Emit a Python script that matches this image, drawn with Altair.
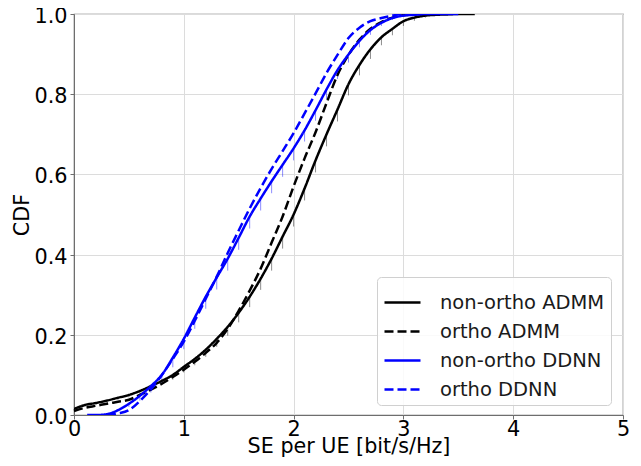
import altair as alt
import pandas as pd

FONT = "DejaVu Sans"

# ---------------- data ----------------
x_nonortho_admm = [0.0, 0.1, 0.2, 0.3, 0.4, 0.5, 0.6, 0.7, 0.8, 0.9, 1.0, 1.1, 1.2, 1.3, 1.4,
                   1.5, 1.6, 1.7, 1.8, 1.9, 2.0, 2.1, 2.2, 2.3, 2.4, 2.5, 2.6, 2.7, 2.8, 2.9,
                   3.0, 3.1, 3.2, 3.3, 3.4, 3.5, 3.65]
y_nonortho_admm = [0.015, 0.025, 0.030, 0.036, 0.043, 0.050, 0.060, 0.072, 0.085, 0.100, 0.120,
                   0.140, 0.163, 0.190, 0.220, 0.255, 0.295, 0.340, 0.390, 0.445, 0.500, 0.565,
                   0.635, 0.700, 0.762, 0.825, 0.873, 0.912, 0.942, 0.963, 0.982, 0.991, 0.996,
                   0.998, 0.999, 1.0, 1.0]
e_nonortho_admm = [0.004, 0.004, 0.004, 0.005, 0.005, 0.006, 0.007, 0.008, 0.010, 0.012, 0.014,
                   0.016, 0.018, 0.020, 0.022, 0.024, 0.026, 0.028, 0.030, 0.030, 0.030, 0.030,
                   0.030, 0.030, 0.030, 0.028, 0.026, 0.024, 0.020, 0.016, 0.012, 0.008, 0.005,
                   0.003, 0.002, 0.0, 0.0]

x_ortho_admm = [0.0, 0.1, 0.2, 0.3, 0.4, 0.5, 0.6, 0.7, 0.8, 0.9, 1.0, 1.1, 1.2, 1.3, 1.4,
                1.5, 1.6, 1.7, 1.8, 1.9, 2.0, 2.1, 2.2, 2.3, 2.4, 2.5, 2.6, 2.7, 2.8, 2.9,
                3.0, 3.1, 3.2]
y_ortho_admm = [0.010, 0.018, 0.023, 0.028, 0.033, 0.038, 0.050, 0.063, 0.078, 0.095, 0.113,
                0.133, 0.155, 0.180, 0.215, 0.260, 0.310, 0.365, 0.430, 0.495, 0.570, 0.640,
                0.705, 0.778, 0.848, 0.898, 0.936, 0.963, 0.980, 0.991, 0.997, 0.999, 1.0]

x_nonortho_ddnn = [0.12, 0.2, 0.3, 0.4, 0.5, 0.6, 0.7, 0.8, 0.9, 1.0, 1.1, 1.2, 1.3, 1.4,
                   1.5, 1.6, 1.7, 1.8, 1.9, 2.0, 2.1, 2.2, 2.3, 2.4, 2.5, 2.6, 2.7, 2.8, 2.9,
                   3.0, 3.1, 3.2, 3.35, 3.5]
y_nonortho_ddnn = [0.0, 0.0, 0.002, 0.012, 0.028, 0.048, 0.072, 0.100, 0.143, 0.190, 0.243,
                   0.295, 0.343, 0.390, 0.442, 0.495, 0.540, 0.583, 0.624, 0.665, 0.710, 0.760,
                   0.812, 0.860, 0.899, 0.933, 0.960, 0.978, 0.990, 0.996, 0.998, 1.0, 1.0, 1.0]
e_nonortho_ddnn = [0.0, 0.0, 0.002, 0.004, 0.008, 0.012, 0.016, 0.020, 0.024, 0.026, 0.028,
                   0.030, 0.030, 0.030, 0.030, 0.030, 0.030, 0.030, 0.030, 0.030, 0.028, 0.026,
                   0.024, 0.022, 0.020, 0.016, 0.012, 0.008, 0.005, 0.003, 0.002, 0.0, 0.0, 0.0]

x_ortho_ddnn = [0.3, 0.4, 0.5, 0.6, 0.7, 0.8, 0.9, 1.0, 1.1, 1.2, 1.3, 1.4, 1.5, 1.6, 1.7,
                1.8, 1.9, 2.0, 2.1, 2.2, 2.3, 2.4, 2.5, 2.6, 2.7, 2.8, 2.9, 3.0, 3.1]
y_ortho_ddnn = [0.0, 0.004, 0.012, 0.035, 0.064, 0.100, 0.140, 0.183, 0.235, 0.290, 0.345,
                0.404, 0.460, 0.515, 0.566, 0.614, 0.658, 0.703, 0.752, 0.802, 0.853, 0.898,
                0.940, 0.966, 0.982, 0.990, 0.996, 1.0, 1.0]

series_names = ["non-ortho ADMM", "ortho ADMM", "non-ortho DDNN", "ortho DDNN"]
series_colors = ["black", "black", "blue", "blue"]
series_dashes = [[1, 0], [9, 4], [1, 0], [9, 4]]

# ---------------- tables ----------------
rows = []
for name, xs, ys in [
    (series_names[0], x_nonortho_admm, y_nonortho_admm),
    (series_names[1], x_ortho_admm, y_ortho_admm),
    (series_names[2], x_nonortho_ddnn, y_nonortho_ddnn),
    (series_names[3], x_ortho_ddnn, y_ortho_ddnn),
]:
    for i, (xv, yv) in enumerate(zip(xs, ys)):
        rows.append({"series": name, "se": xv, "cdf": yv, "order": i})
lines_df = pd.DataFrame(rows)

erows = []
for name, xs, ys, es in [
    (series_names[0], x_nonortho_admm, y_nonortho_admm, e_nonortho_admm),
    (series_names[2], x_nonortho_ddnn, y_nonortho_ddnn, e_nonortho_ddnn),
]:
    for xv, yv, ev in zip(xs, ys, es):
        if ev > 0:
            erows.append({"series": name, "se": xv, "cdf": yv, "low": yv - ev})
err_df = pd.DataFrame(erows)

xscale = alt.Scale(domain=[0, 5], nice=False, zero=False)
yscale = alt.Scale(domain=[0, 1], nice=False)

x_axis = alt.Axis(values=[0, 1, 2, 3, 4, 5], format="d", title="SE per UE [bit/s/Hz]",
                  labelFlush=False, labelPadding=0, titleY=37, titleBaseline="alphabetic")
y_axis = alt.Axis(values=[0, 0.2, 0.4, 0.6, 0.8, 1.0], format=".1f", title="CDF",
                  labelBaseline="alphabetic", labelOffset=8.5, labelPadding=3,
                  titleX=-46, titleBaseline="alphabetic")

err_black = alt.Chart(err_df).transform_filter(
    alt.datum.series == series_names[0]
).mark_rule(color="black", opacity=0.45, strokeWidth=1).encode(
    x=alt.X("se:Q", scale=xscale, axis=x_axis),
    y=alt.Y("cdf:Q", scale=yscale, axis=y_axis),
    y2="low:Q",
)
err_blue = alt.Chart(err_df).transform_filter(
    alt.datum.series == series_names[2]
).mark_rule(color="blue", opacity=0.45, strokeWidth=1).encode(
    x=alt.X("se:Q", scale=xscale, axis=x_axis),
    y=alt.Y("cdf:Q", scale=yscale, axis=y_axis),
    y2="low:Q",
)

lines = alt.Chart(lines_df).mark_line(strokeWidth=2.5, clip=True, interpolate="monotone").encode(
    x=alt.X("se:Q", scale=xscale, axis=x_axis),
    y=alt.Y("cdf:Q", scale=yscale, axis=y_axis),
    order="order:Q",
    color=alt.Color(
        "series:N",
        scale=alt.Scale(domain=series_names, range=series_colors),
        sort=series_names,
        legend=alt.Legend(
            title=None,
            orient="none",
            legendX=303,
            legendY=263,
            symbolType="stroke",
            symbolSize=1296,
            symbolStrokeWidth=2.5,
            labelFont=FONT,
            labelFontSize=19.5,
            labelLimit=300,
            labelColor="#1a1a1a",
            fillColor="rgba(255,255,255,0.85)",
            strokeColor="#d0d0d0",
            cornerRadius=4,
            padding=6,
            rowPadding=0,
            labelOffset=18,
        ),
    ),
    strokeDash=alt.StrokeDash(
        "series:N",
        scale=alt.Scale(domain=series_names, range=series_dashes),
        sort=series_names,
        legend=alt.Legend(title=None),
    ),
)

chart = alt.layer(err_black, err_blue, lines).properties(
    width=549,
    height=401,
    autosize=alt.AutoSizeParams(type="none"),
    padding={"left": 66, "top": 6, "right": 10, "bottom": 50},
).configure_view(
    stroke="#6e6e6e", strokeWidth=1.2
).configure_axis(
    labelFont=FONT,
    labelFontSize=20.8,
    labelColor="black",
    titleFont=FONT,
    titleFontSize=20.7,
    titleFontWeight="normal",
    titleColor="black",
    gridColor="#dcdcdc",
    gridWidth=1,
    domainColor="#6e6e6e",
    tickColor="#6e6e6e",
    tickSize=4,
)

chart.save("out.html", embed_options={"renderer": "svg", "actions": False})
